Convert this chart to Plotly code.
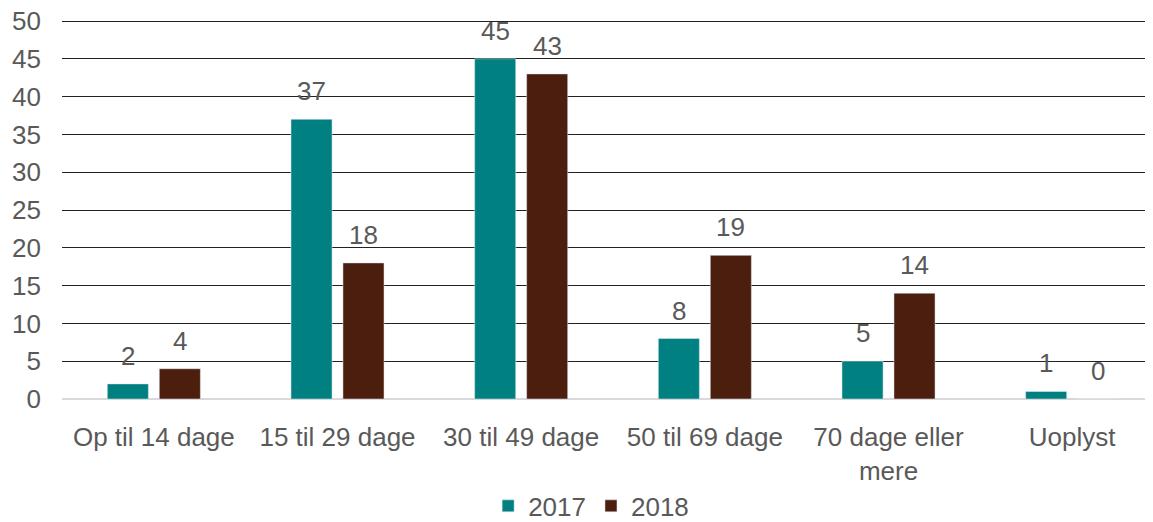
import plotly.graph_objects as go

categories = ["Op til 14 dage", "15 til 29 dage", "30 til 49 dage",
              "50 til 69 dage", "70 dage eller<br>mere", "Uoplyst"]
values_2017 = [2, 37, 45, 8, 5, 1]
values_2018 = [4, 18, 43, 19, 14, 0]
y_ticks = [0, 5, 10, 15, 20, 25, 30, 35, 40, 45, 50]

TEAL = "#008080"
BROWN = "#4B1E0D"
GREY = "#595959"
FONT = "Liberation Sans, Arial, sans-serif"
FS = 26

fig = go.Figure()
fig.add_trace(go.Bar(name="2017", x=categories, y=values_2017, marker_color=TEAL))
fig.add_trace(go.Bar(name="2018", x=categories, y=values_2018, marker_color=BROWN))

# dataetiketter over søjlerne
for vals, shift in [(values_2017, -26), (values_2018, 26)]:
    for cat, v in zip(categories, vals):
        fig.add_annotation(x=cat, y=v, text=str(v), showarrow=False,
                           xshift=shift, yshift=11, yanchor="bottom",
                           font=dict(size=FS, color=GREY, family=FONT))

# siden har 8px body-margen, derfor er figuren 8px mindre
fig.update_layout(
    width=1145, height=514,
    margin=dict(l=54, r=0, t=9, b=123, autoexpand=False),
    paper_bgcolor="white", plot_bgcolor="white",
    barmode="group", bargap=0.434, bargroupgap=0.21,
    font=dict(family=FONT, size=FS, color=GREY),
    showlegend=True,
    legend=dict(orientation="h", x=0.485, xanchor="center", y=-0.28, yanchor="middle",
                font=dict(size=FS, color=GREY), itemwidth=30),
)
fig.update_xaxes(range=[-0.5, 5.44], showgrid=False, showline=False, automargin=False,
                 ticks="", ticklabelstandoff=20, tickfont=dict(size=FS, color=GREY))
# lidt luft over 50, så den øverste gitterlinje tegnes
fig.update_yaxes(range=[0, 50.53], tickvals=y_ticks, showgrid=True, gridcolor="#222222",
                 gridwidth=1, zeroline=True, zerolinecolor="#d9d9d9", zerolinewidth=2,
                 automargin=False, ticklabeloverflow="allow",
                 ticks="", ticklabelstandoff=20, tickfont=dict(size=FS, color=GREY))

fig.write_html("out.html")
